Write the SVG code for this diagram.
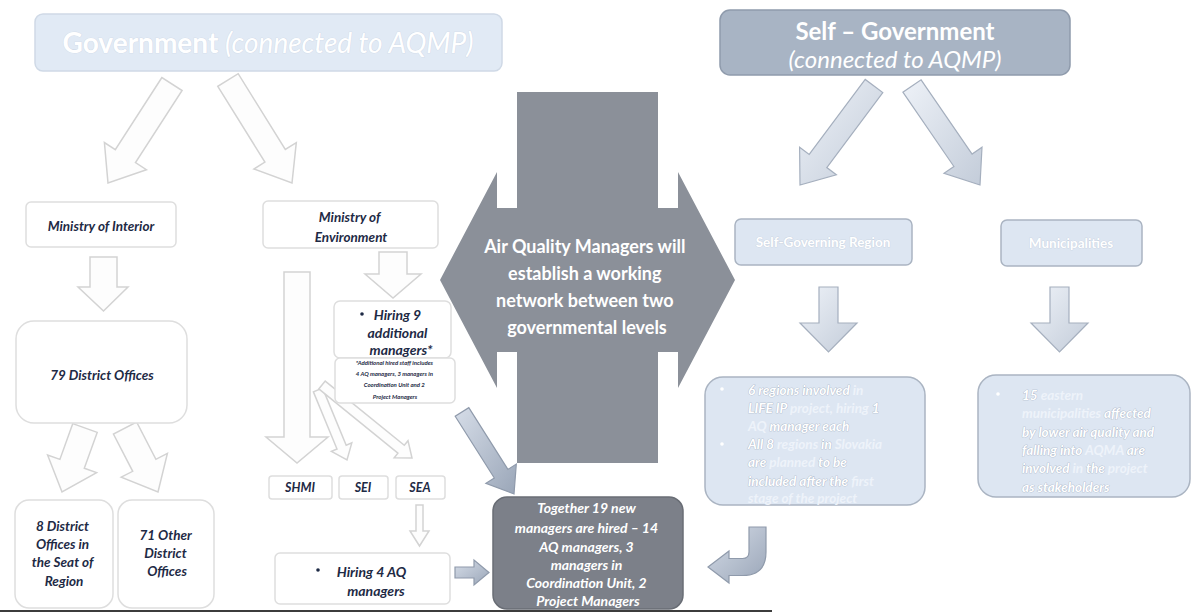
<svg xmlns="http://www.w3.org/2000/svg" width="1196" height="614" viewBox="0 0 1196 614">
<defs>
<linearGradient id="gBlue" x1="0" y1="0" x2="1" y2="1">
<stop offset="0" stop-color="#d6dde8"/><stop offset="1" stop-color="#9aa6b8"/>
</linearGradient>
<linearGradient id="gPale" x1="0" y1="0" x2="1" y2="1">
<stop offset="0" stop-color="#eef2f8"/><stop offset="1" stop-color="#c3ccd9"/>
</linearGradient>
</defs>
<style>
.ol{fill:#fdfdfd;stroke:#d3d3d3;stroke-width:1.5}
.ba{fill:url(#gBlue);stroke:#8f9aab;stroke-width:1.2}
.pa{fill:url(#gPale);stroke:#a5afbe;stroke-width:1.2}
.wb{fill:#fff;stroke:#dedede;stroke-width:1.5}
.lb{fill:#dde6f2;stroke:#aab4c2;stroke-width:1.5}
.nt{font-family:Lato,"Liberation Sans",sans-serif;font-weight:bold;font-style:italic;fill:#1e2a45;text-anchor:middle}
.wt{font-family:Lato,"Liberation Sans",sans-serif;font-weight:bold;fill:#fff}
.wi{font-family:Lato,"Liberation Sans",sans-serif;font-weight:bold;font-style:italic;fill:#fff}
.hl{stroke:#a3aebf;stroke-width:0.7;paint-order:stroke}
.ft{fill:#eef3fa}
.gray{fill:#8b9099}
</style>
<rect width="1196" height="614" fill="#fff"/>

<g id="connectors">
  <!-- government header arrows -->
  <polygon class="ol" points="161.9,77.5 115.3,149.6 104.4,142.5 108,183 146.4,169.7 135.5,162.6 182.1,90.5"/>
  <polygon class="ol" points="217.8,86.3 264.9,162.1 253.9,169 292,183 296.3,142.6 285.3,149.5 238.2,73.7"/>
  <!-- self-government header arrows -->
  <polygon class="pa" points="865.2,79.4 809.2,154.4 799.6,147.2 800,185 836.4,174.8 826.8,167.6 882.8,92.6"/>
  <polygon class="pa" points="902.9,92.2 953.9,166.5 944,173.3 980,185 982,147.3 972.1,154.1 921.1,79.8"/>
  <!-- Ministry of Interior down -->
  <polygon class="ol" points="90,257 117,257 117,287 128,287 103.5,311 78,287 90,287"/>
  <!-- 79 District Offices diagonals -->
  <polygon class="ol" points="72.8,423.6 59.9,459.4 47.6,455 62,492 96.6,472.6 84.3,468.2 97.2,432.4"/>
  <polygon class="ol" points="113.4,434 132.7,471.3 121.2,477.2 158,492 167.4,453.4 155.9,459.3 136.6,422"/>
  <!-- Ministry of Environment down -->
  <polygon class="ol" points="379,252 407,252 407,274 421,274 393,298 365,274 379,274"/>
  <!-- long arrow to SHMI -->
  <polygon class="ol" points="284,272 310,272 310,437 328,437 297,463 266,437 284,437"/>
  <!-- thin arrows to SEI / SEA -->
  <polygon class="ol" points="313.4,391.9 337,449 331.4,451.3 347,460 351.8,442.9 346.2,445.2 322.6,388.1"/>
  <polygon class="ol" points="318.8,388.9 397.9,453.1 394.2,457.7 412,458 408,440.7 404.3,445.3 325.2,381.1"/>
  <!-- SEA down to Hiring 4 -->
  <polygon class="ol" points="416,505 423,505 423,531 429,531 419.5,546 410,531 416,531"/>
  <!-- to Together box -->
  <polygon class="ba" points="455.2,416.3 494.3,478 485.9,483.3 514,494 516.3,464.1 507.9,469.4 468.8,407.7"/>
  <polygon class="ba" points="455,567 474,567 474,560 489,572.5 474,585 474,578 455,578"/>
  <!-- right column down arrows -->
  <polygon class="pa" points="819,287 838,287 838,323 857,323 828.5,352 800,323 819,323"/>
  <polygon class="pa" points="1050,287 1069,287 1069,323 1088,323 1059.5,352 1031,323 1050,323"/>
  <!-- hook arrow -->
  <path class="ba" d="M749 527 L766 527 L766 552 Q766 575.5 742.5 575.5 L729 575.5 L729 583 L708 567 L729 551 L729 558.5 L742.5 558.5 Q749 558.5 749 552 Z"/>
</g>

<g id="center-network">
  <polygon class="gray" points="440,280 497,172 497,208 678,208 678,172 735,280 678,388 678,352 497,352 497,388"/>
  <rect class="gray" x="517" y="92" width="141" height="371"/>
  <text class="wt" font-size="18" text-anchor="middle">
    <tspan x="587" y="253">Air Quality Managers will</tspan>
    <tspan x="587" y="280">establish a working</tspan>
    <tspan x="587" y="307">network between two</tspan>
    <tspan x="587" y="334">governmental levels</tspan>
  </text>
</g>

<g id="gov-header">
  <rect x="35" y="14" width="467" height="57" rx="8" fill="#e1eaf5" stroke="#cfd9e6" stroke-width="1.5"/>
  <text class="wt hl" x="268" y="53" font-size="28" text-anchor="middle" style="stroke:#ccd7e5">Government <tspan font-weight="normal" font-style="italic">(connected to AQMP)</tspan></text>
</g>

<g id="selfgov-header">
  <rect x="720" y="10" width="350" height="65" rx="10" fill="#a8b4c4" stroke="#8f9bac" stroke-width="1.5"/>
  <text class="wt" x="895" y="40" font-size="24" text-anchor="middle">Self – Government</text>
  <text class="wi" x="895" y="68" font-size="24" font-weight="normal" text-anchor="middle" style="font-weight:normal">(connected to AQMP)</text>
</g>

<g id="ministry-interior">
  <rect class="wb" x="26" y="202" width="150" height="45" rx="5"/>
  <text class="nt" x="101" y="231" font-size="13.5">Ministry of Interior</text>
</g>

<g id="district-79">
  <rect class="wb" x="16" y="321" width="171" height="102" rx="18"/>
  <text class="nt" x="102" y="380" font-size="13.5">79 District Offices</text>
</g>

<g id="district-8">
  <rect class="wb" x="15" y="500" width="98" height="108" rx="14"/>
  <text class="nt" font-size="13.5">
    <tspan x="64" y="531">8 District</tspan>
    <tspan x="64" y="549">Offices in</tspan>
    <tspan x="64" y="567">the Seat of</tspan>
    <tspan x="64" y="586">Region</tspan>
  </text>
</g>

<g id="district-71">
  <rect class="wb" x="118" y="500" width="96" height="108" rx="14"/>
  <text class="nt" font-size="13.5">
    <tspan x="167" y="540">71 Other</tspan>
    <tspan x="167" y="558">District</tspan>
    <tspan x="167" y="576">Offices</tspan>
  </text>
</g>

<g id="ministry-environment">
  <rect class="wb" x="263" y="201" width="175" height="47" rx="5"/>
  <text class="nt" font-size="13.5">
    <tspan x="351" y="222">Ministry of</tspan>
    <tspan x="351" y="242">Environment</tspan>
  </text>
</g>

<g id="hiring-9">
  <rect class="wb" x="334" y="301" width="117" height="57" rx="6"/>
  <rect class="wb" x="335" y="358" width="120" height="45" rx="5"/>
  <circle cx="362" cy="314" r="1.8" fill="#1e2a45"/>
  <text class="nt" font-size="14">
    <tspan x="399" y="320">Hiring 9</tspan>
    <tspan x="399" y="338">additional</tspan>
    <tspan x="401" y="355">managers*</tspan>
  </text>
  <text class="nt" font-size="6">
    <tspan x="395" y="365">*Additional hired staff includes</tspan>
    <tspan x="395" y="376">4 AQ managers, 3 managers in</tspan>
    <tspan x="395" y="387">Coordination Unit and 2</tspan>
    <tspan x="395" y="399">Project Managers</tspan>
  </text>
</g>

<g id="shmi">
  <rect class="wb" x="269" y="476" width="63" height="23" rx="3"/>
  <text class="nt" x="300" y="492" font-size="12.5">SHMI</text>
</g>
<g id="sei">
  <rect class="wb" x="339" y="476" width="49" height="23" rx="3"/>
  <text class="nt" x="363" y="492" font-size="12.5">SEI</text>
</g>
<g id="sea">
  <rect class="wb" x="396" y="476" width="49" height="23" rx="3"/>
  <text class="nt" x="420" y="492" font-size="12.5">SEA</text>
</g>

<g id="hiring-4">
  <rect class="wb" x="275" y="553" width="175" height="51" rx="5"/>
  <circle cx="318" cy="570" r="1.8" fill="#1e2a45"/>
  <text class="nt" font-size="14">
    <tspan x="373" y="577">Hiring 4 AQ</tspan>
    <tspan x="376" y="596">managers</tspan>
  </text>
</g>

<g id="together">
  <rect x="493" y="497" width="190" height="112" rx="14" fill="#7c8089" stroke="#696d75" stroke-width="1.5"/>
  <text class="wi" font-size="14" text-anchor="middle">
    <tspan x="588" y="513">Together 19 new</tspan>
    <tspan x="588" y="533">managers are hired – 14</tspan>
    <tspan x="588" y="552">AQ managers, 3</tspan>
    <tspan x="588" y="570">managers in</tspan>
    <tspan x="588" y="588">Coordination Unit, 2</tspan>
    <tspan x="588" y="606">Project Managers</tspan>
  </text>
</g>

<g id="self-governing-region">
  <rect class="lb" x="735" y="219" width="177" height="46" rx="6"/>
  <text class="wt hl" x="823" y="247" font-size="13.5" text-anchor="middle" style="stroke:#c4cedc">Self-Governing Region</text>
</g>

<g id="municipalities">
  <rect class="lb" x="1001" y="220" width="141" height="46" rx="6"/>
  <text class="wt hl" x="1071" y="248" font-size="13.5" text-anchor="middle" style="stroke:#c4cedc">Municipalities</text>
</g>

<g id="regions-6">
  <rect class="lb" x="705" y="377" width="220" height="128" rx="18"/>
  <circle cx="722" cy="389" r="1.8" fill="#fff"/>
  <circle cx="722" cy="444" r="1.8" fill="#fff"/>
  <text class="wi" font-size="13.5">
    <tspan x="748" y="395"><tspan class="hl">6 regions involved</tspan> <tspan class="ft">in</tspan></tspan>
    <tspan x="748" y="413"><tspan class="hl">LIFE IP</tspan> <tspan class="ft">project, hiring</tspan> <tspan class="hl">1</tspan></tspan>
    <tspan x="748" y="431"><tspan class="ft">AQ</tspan> <tspan class="hl">manager each</tspan></tspan>
    <tspan x="748" y="449"><tspan class="hl">All 8</tspan> <tspan class="ft">regions</tspan> <tspan class="hl">in</tspan> <tspan class="ft">Slovakia</tspan></tspan>
    <tspan x="748" y="467"><tspan class="hl">are</tspan> <tspan class="ft">planned</tspan> <tspan class="hl">to be</tspan></tspan>
    <tspan x="748" y="486"><tspan class="hl">included after the</tspan> <tspan class="ft">first</tspan></tspan>
    <tspan x="748" y="503" class="ft">stage of the project</tspan>
  </text>
</g>

<g id="municipalities-15">
  <rect class="lb" x="978" y="375" width="212" height="122" rx="18"/>
  <circle cx="998" cy="394" r="1.8" fill="#fff"/>
  <text class="wi" font-size="13.5">
    <tspan x="1022" y="400"><tspan class="hl">15</tspan> <tspan class="ft">eastern</tspan></tspan>
    <tspan x="1022" y="418"><tspan class="ft">municipalities</tspan> <tspan class="hl">affected</tspan></tspan>
    <tspan x="1022" y="437" class="hl">by lower air quality and</tspan>
    <tspan x="1022" y="455"><tspan class="hl">falling into</tspan> <tspan class="ft">AQMA</tspan> <tspan class="hl">are</tspan></tspan>
    <tspan x="1022" y="473"><tspan class="hl">involved</tspan> <tspan class="ft">in</tspan> <tspan class="hl">the</tspan> <tspan class="ft">project</tspan></tspan>
    <tspan x="1022" y="492" class="hl">as stakeholders</tspan>
  </text>
</g>

<g id="page-edge">
  <line x1="0" y1="611" x2="772" y2="611" stroke="#3c3c3c" stroke-width="2"/>
</g>
</svg>
